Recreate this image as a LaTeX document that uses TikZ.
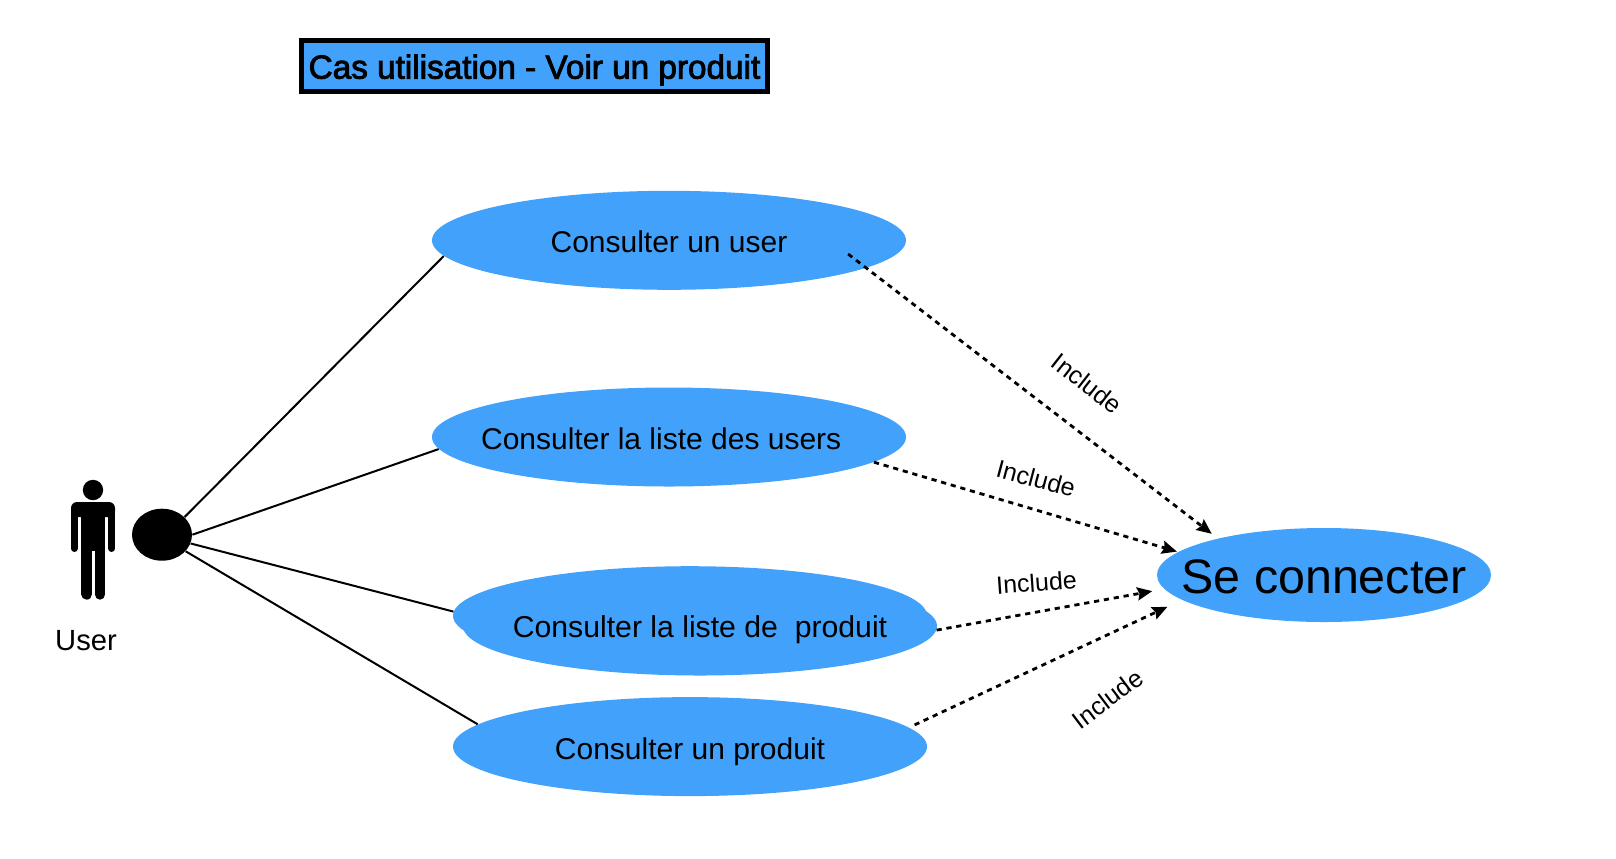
\documentclass[tikz,border=0pt]{standalone}
\usepackage{fontspec}
\setmainfont{Liberation Sans}
\newfontfamily\titlefont[FakeBold=2.5]{Liberation Sans}
\usetikzlibrary{shapes.geometric,arrows.meta}
\definecolor{ucblue}{RGB}{66,161,250}
\tikzset{
  usecase/.style={ellipse,fill=ucblue,inner sep=0pt,minimum width=237pt,minimum height=49.5pt},
  uctext/.style={inner sep=0pt,text height=12.5pt,text depth=0pt,font=\fontsize{15}{18}\selectfont},
  setext/.style={inner sep=0pt,text height=18.5pt,text depth=0pt,font=\fontsize{24.2}{28}\selectfont},
  assoc/.style={line width=1pt,draw=black},
  incl/.style={line width=1.4pt,dash pattern=on 2.6pt off 2.4pt,-{Stealth[length=7.5pt,width=6.5pt,inset=1pt]}},
  incllabel/.style={inner sep=0pt,font=\fontsize{12.5}{15}\selectfont},
}
\begin{document}
\begin{tikzpicture}[x=0.5pt,y=-0.5pt]
\useasboundingbox (0,0) rectangle (1616,858);
% use cases
\node[usecase] (e1) at (669,240.3) {};
\node[usecase] (e2) at (669,437) {};
\node[usecase] (e3back) at (690,615.7) {};
\node[usecase] (e3) at (700,626) {};
\node[usecase] (e4) at (690,746.6) {};
\node[usecase,minimum width=167pt,minimum height=47pt] (se) at (1324,575) {};
\node[uctext] (t1) at (e1) {Consulter un user};
\node[uctext,xshift=-3.9pt] (t2) at (e2) {Consulter la liste des users};
\node[uctext,yshift=0.5pt,font=\fontsize{15.1}{18}\selectfont] (t3) at (e3) {Consulter la liste de\ \ produit};
\node[uctext] (t4) at (e4) {Consulter un produit};
\node[setext] (t5) at (se) {Se connecter};
% title
\node[draw=black,fill=ucblue,line width=2.5pt,inner sep=0pt,minimum width=233pt,minimum height=25.5pt,text height=12.6pt,text depth=0pt,font=\titlefont\fontsize{16.65}{19}\selectfont] (title) at (534.5,66) {Cas utilisation - Voir un produit};
% actor
\node[ellipse,fill=black,inner sep=0pt,minimum width=30pt,minimum height=26pt] (port) at (162,534.7) {};
\node[circle,fill=black,inner sep=0pt,minimum size=10.2pt] (head) at (93,490) {};
\fill[rounded corners=3pt] (71,517) -- (71,502) -- (115,502) -- (115,517) -- cycle;
\fill (81,510) rectangle (105.3,551);
\fill (71,512) rectangle (77.7,530);
\fill (108.3,512) rectangle (115,530);
\draw[line width=3.35pt,line cap=round] (74.35,515) -- (74.35,548.6);
\draw[line width=3.35pt,line cap=round] (111.65,515) -- (111.65,548.6);
\draw[line width=5.65pt,line cap=round] (86.65,545) -- (86.65,594);
\draw[line width=5.3pt,line cap=round] (100,545) -- (100,594.4);
\node[inner sep=0pt,font=\fontsize{14.6}{17}\selectfont] (user) at (86,641) {User};
% associations
\draw[assoc] (port.38.5) -- (e1.184.6);
\draw[assoc] (port.0) -- (e2.183);
\draw[assoc] (port.-17.4) -- (e3back.179);
\draw[assoc] (port.-35) -- (e4.174.6);
% includes
\draw[incl,shorten <=-11.5pt,shorten >=3.75pt] (e1.-8.2) -- (se.161.1);
\draw[incl,shorten >=0.5pt] (e2.-7.5) -- (se.171);
\draw[incl,shorten >=6pt] (e3.-1.75) -- (se.185.3);
\draw[incl,shorten <=3pt,shorten >=8pt] (e4.5.8) -- (se.190.9);
% labels
\node[incllabel,rotate=-38] (i1) at (1087,383.6) {Include};
\node[incllabel,rotate=-15] (i2) at (1036,478.5) {Include};
\node[incllabel,rotate=4] (i3) at (1036.5,582.7) {Include};
\node[incllabel,rotate=37] (i4) at (1107.6,699) {Include};
\end{tikzpicture}
\end{document}
